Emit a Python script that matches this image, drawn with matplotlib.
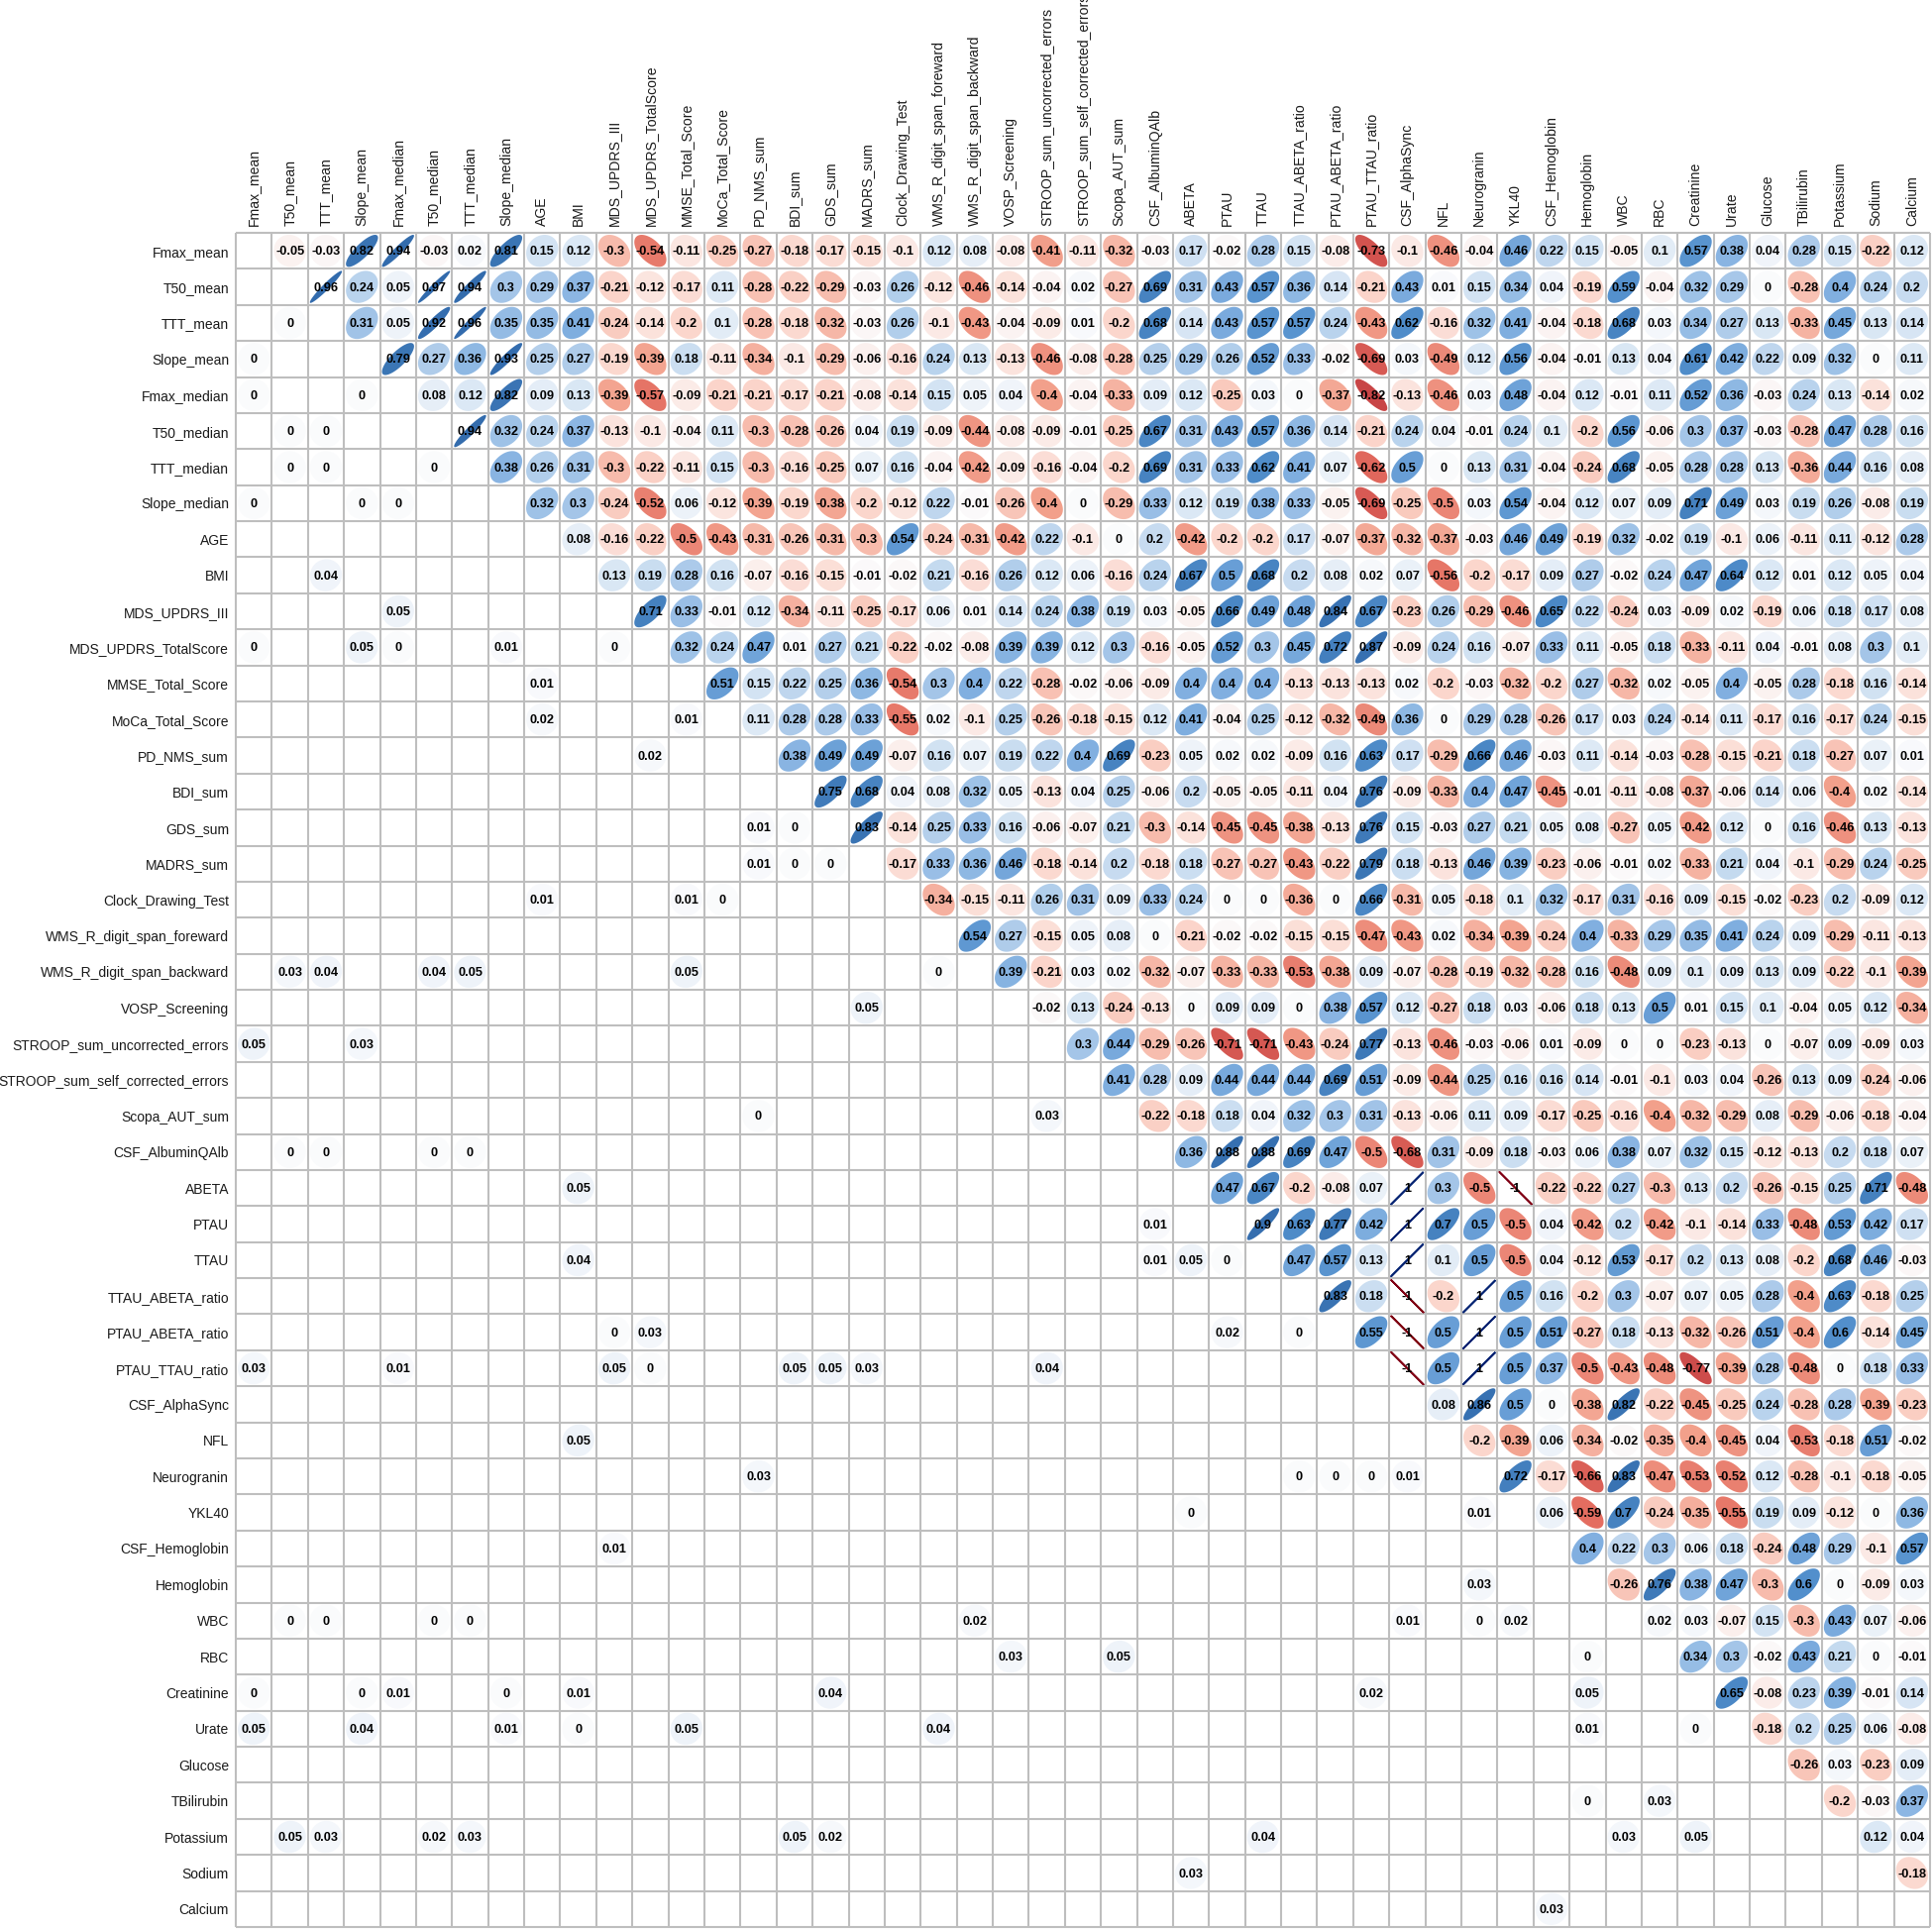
import numpy as np
import matplotlib
matplotlib.use("Agg")
import matplotlib.pyplot as plt
from matplotlib.colors import LinearSegmentedColormap

labels = ["Fmax_mean","T50_mean","TTT_mean","Slope_mean","Fmax_median","T50_median","TTT_median","Slope_median",
          "AGE","BMI","MDS_UPDRS_III","MDS_UPDRS_TotalScore","MMSE_Total_Score","MoCa_Total_Score","PD_NMS_sum",
          "BDI_sum","GDS_sum","MADRS_sum","Clock_Drawing_Test","WMS_R_digit_span_foreward","WMS_R_digit_span_backward",
          "VOSP_Screening","STROOP_sum_uncorrected_errors","STROOP_sum_self_corrected_errors","Scopa_AUT_sum",
          "CSF_AlbuminQAlb","ABETA","PTAU","TTAU","TTAU_ABETA_ratio","PTAU_ABETA_ratio","PTAU_TTAU_ratio","CSF_AlphaSync",
          "NFL","Neurogranin","YKL40","CSF_Hemoglobin","Hemoglobin","WBC","RBC","Creatinine","Urate","Glucose","TBilirubin",
          "Potassium","Sodium","Calcium"]

# Upper triangle: correlations, each list starts at the column right of the diagonal
r_Fmax_mean = [-0.05,-0.03,0.82,0.94,-0.03,0.02,0.81,0.15,0.12,-0.3,-0.54,-0.11,-0.25,-0.27,-0.18,-0.17,-0.15,-0.1,0.12,0.08,-0.08,-0.41,-0.11,-0.32,-0.03,0.17,-0.02,0.28,0.15,-0.08,-0.73,-0.1,-0.46,-0.04,0.46,0.22,0.15,-0.05,0.1,0.57,0.38,0.04,0.28,0.15,-0.22,0.12]
r_T50_mean = [0.96,0.24,0.05,0.97,0.94,0.3,0.29,0.37,-0.21,-0.12,-0.17,0.11,-0.28,-0.22,-0.29,-0.03,0.26,-0.12,-0.46,-0.14,-0.04,0.02,-0.27,0.69,0.31,0.43,0.57,0.36,0.14,-0.21,0.43,0.01,0.15,0.34,0.04,-0.19,0.59,-0.04,0.32,0.29,0,-0.28,0.4,0.24,0.2]
r_TTT_mean = [0.31,0.05,0.92,0.96,0.35,0.35,0.41,-0.24,-0.14,-0.2,0.1,-0.28,-0.18,-0.32,-0.03,0.26,-0.1,-0.43,-0.04,-0.09,0.01,-0.2,0.68,0.14,0.43,0.57,0.57,0.24,-0.43,0.62,-0.16,0.32,0.41,-0.04,-0.18,0.68,0.03,0.34,0.27,0.13,-0.33,0.45,0.13,0.14]
r_Slope_mean = [0.79,0.27,0.36,0.93,0.25,0.27,-0.19,-0.39,0.18,-0.11,-0.34,-0.1,-0.29,-0.06,-0.16,0.24,0.13,-0.13,-0.46,-0.08,-0.28,0.25,0.29,0.26,0.52,0.33,-0.02,-0.69,0.03,-0.49,0.12,0.56,-0.04,-0.01,0.13,0.04,0.61,0.42,0.22,0.09,0.32,0,0.11]
r_Fmax_median = [0.08,0.12,0.82,0.09,0.13,-0.39,-0.57,-0.09,-0.21,-0.21,-0.17,-0.21,-0.08,-0.14,0.15,0.05,0.04,-0.4,-0.04,-0.33,0.09,0.12,-0.25,0.03,0,-0.37,-0.82,-0.13,-0.46,0.03,0.48,-0.04,0.12,-0.01,0.11,0.52,0.36,-0.03,0.24,0.13,-0.14,0.02]
r_T50_median = [0.94,0.32,0.24,0.37,-0.13,-0.1,-0.04,0.11,-0.3,-0.28,-0.26,0.04,0.19,-0.09,-0.44,-0.08,-0.09,-0.01,-0.25,0.67,0.31,0.43,0.57,0.36,0.14,-0.21,0.24,0.04,-0.01,0.24,0.1,-0.2,0.56,-0.06,0.3,0.37,-0.03,-0.28,0.47,0.28,0.16]
r_TTT_median = [0.38,0.26,0.31,-0.3,-0.22,-0.11,0.15,-0.3,-0.16,-0.25,0.07,0.16,-0.04,-0.42,-0.09,-0.16,-0.04,-0.2,0.69,0.31,0.33,0.62,0.41,0.07,-0.62,0.5,0,0.13,0.31,-0.04,-0.24,0.68,-0.05,0.28,0.28,0.13,-0.36,0.44,0.16,0.08]
r_Slope_median = [0.32,0.3,-0.24,-0.52,0.06,-0.12,-0.39,-0.19,-0.38,-0.2,-0.12,0.22,-0.01,-0.26,-0.4,0,-0.29,0.33,0.12,0.19,0.38,0.33,-0.05,-0.69,-0.25,-0.5,0.03,0.54,-0.04,0.12,0.07,0.09,0.71,0.49,0.03,0.19,0.26,-0.08,0.19]
r_AGE = [0.08,-0.16,-0.22,-0.5,-0.43,-0.31,-0.26,-0.31,-0.3,0.54,-0.24,-0.31,-0.42,0.22,-0.1,0,0.2,-0.42,-0.2,-0.2,0.17,-0.07,-0.37,-0.32,-0.37,-0.03,0.46,0.49,-0.19,0.32,-0.02,0.19,-0.1,0.06,-0.11,0.11,-0.12,0.28]
r_BMI = [0.13,0.19,0.28,0.16,-0.07,-0.16,-0.15,-0.01,-0.02,0.21,-0.16,0.26,0.12,0.06,-0.16,0.24,0.67,0.5,0.68,0.2,0.08,0.02,0.07,-0.56,-0.2,-0.17,0.09,0.27,-0.02,0.24,0.47,0.64,0.12,0.01,0.12,0.05,0.04]
r_UPDRS_III = [0.71,0.33,-0.01,0.12,-0.34,-0.11,-0.25,-0.17,0.06,0.01,0.14,0.24,0.38,0.19,0.03,-0.05,0.66,0.49,0.48,0.84,0.67,-0.23,0.26,-0.29,-0.46,0.65,0.22,-0.24,0.03,-0.09,0.02,-0.19,0.06,0.18,0.17,0.08]
r_UPDRS_Total = [0.32,0.24,0.47,0.01,0.27,0.21,-0.22,-0.02,-0.08,0.39,0.39,0.12,0.3,-0.16,-0.05,0.52,0.3,0.45,0.72,0.87,-0.09,0.24,0.16,-0.07,0.33,0.11,-0.05,0.18,-0.33,-0.11,0.04,-0.01,0.08,0.3,0.1]
r_MMSE = [0.51,0.15,0.22,0.25,0.36,-0.54,0.3,0.4,0.22,-0.28,-0.02,-0.06,-0.09,0.4,0.4,0.4,-0.13,-0.13,-0.13,0.02,-0.2,-0.03,-0.32,-0.2,0.27,-0.32,0.02,-0.05,0.4,-0.05,0.28,-0.18,0.16,-0.14]
r_MoCa = [0.11,0.28,0.28,0.33,-0.55,0.02,-0.1,0.25,-0.26,-0.18,-0.15,0.12,0.41,-0.04,0.25,-0.12,-0.32,-0.49,0.36,0,0.29,0.28,-0.26,0.17,0.03,0.24,-0.14,0.11,-0.17,0.16,-0.17,0.24,-0.15]
r_PD_NMS = [0.38,0.49,0.49,-0.07,0.16,0.07,0.19,0.22,0.4,0.69,-0.23,0.05,0.02,0.02,-0.09,0.16,0.63,0.17,-0.29,0.66,0.46,-0.03,0.11,-0.14,-0.03,-0.28,-0.15,-0.21,0.18,-0.27,0.07,0.01]
r_BDI = [0.75,0.68,0.04,0.08,0.32,0.05,-0.13,0.04,0.25,-0.06,0.2,-0.05,-0.05,-0.11,0.04,0.76,-0.09,-0.33,0.4,0.47,-0.45,-0.01,-0.11,-0.08,-0.37,-0.06,0.14,0.06,-0.4,0.02,-0.14]
r_GDS = [0.83,-0.14,0.25,0.33,0.16,-0.06,-0.07,0.21,-0.3,-0.14,-0.45,-0.45,-0.38,-0.13,0.76,0.15,-0.03,0.27,0.21,0.05,0.08,-0.27,0.05,-0.42,0.12,0,0.16,-0.46,0.13,-0.13]
r_MADRS = [-0.17,0.33,0.36,0.46,-0.18,-0.14,0.2,-0.18,0.18,-0.27,-0.27,-0.43,-0.22,0.79,0.18,-0.13,0.46,0.39,-0.23,-0.06,-0.01,0.02,-0.33,0.21,0.04,-0.1,-0.29,0.24,-0.25]
r_Clock = [-0.34,-0.15,-0.11,0.26,0.31,0.09,0.33,0.24,0,0,-0.36,0,0.66,-0.31,0.05,-0.18,0.1,0.32,-0.17,0.31,-0.16,0.09,-0.15,-0.02,-0.23,0.2,-0.09,0.12]
r_WMS_fore = [0.54,0.27,-0.15,0.05,0.08,0,-0.21,-0.02,-0.02,-0.15,-0.15,-0.47,-0.43,0.02,-0.34,-0.39,-0.24,0.4,-0.33,0.29,0.35,0.41,0.24,0.09,-0.29,-0.11,-0.13]
r_WMS_back = [0.39,-0.21,0.03,0.02,-0.32,-0.07,-0.33,-0.33,-0.53,-0.38,0.09,-0.07,-0.28,-0.19,-0.32,-0.28,0.16,-0.48,0.09,0.1,0.09,0.13,0.09,-0.22,-0.1,-0.39]
r_VOSP = [-0.02,0.13,-0.24,-0.13,0,0.09,0.09,0,0.38,0.57,0.12,-0.27,0.18,0.03,-0.06,0.18,0.13,0.5,0.01,0.15,0.1,-0.04,0.05,0.12,-0.34]
r_STROOP_unc = [0.3,0.44,-0.29,-0.26,-0.71,-0.71,-0.43,-0.24,0.77,-0.13,-0.46,-0.03,-0.06,0.01,-0.09,0,0,-0.23,-0.13,0,-0.07,0.09,-0.09,0.03]
r_STROOP_self = [0.41,0.28,0.09,0.44,0.44,0.44,0.69,0.51,-0.09,-0.44,0.25,0.16,0.16,0.14,-0.01,-0.1,0.03,0.04,-0.26,0.13,0.09,-0.24,-0.06]
r_Scopa = [-0.22,-0.18,0.18,0.04,0.32,0.3,0.31,-0.13,-0.06,0.11,0.09,-0.17,-0.25,-0.16,-0.4,-0.32,-0.29,0.08,-0.29,-0.06,-0.18,-0.04]
r_Albumin = [0.36,0.88,0.88,0.69,0.47,-0.5,-0.68,0.31,-0.09,0.18,-0.03,0.06,0.38,0.07,0.32,0.15,-0.12,-0.13,0.2,0.18,0.07]
r_ABETA = [0.47,0.67,-0.2,-0.08,0.07,1,0.3,-0.5,-1,-0.22,-0.22,0.27,-0.3,0.13,0.2,-0.26,-0.15,0.25,0.71,-0.48]
r_PTAU = [0.9,0.63,0.77,0.42,1,0.7,0.5,-0.5,0.04,-0.42,0.2,-0.42,-0.1,-0.14,0.33,-0.48,0.53,0.42,0.17]
r_TTAU = [0.47,0.57,0.13,1,0.1,0.5,-0.5,0.04,-0.12,0.53,-0.17,0.2,0.13,0.08,-0.2,0.68,0.46,-0.03]
r_TTAU_ABETA = [0.83,0.18,-1,-0.2,1,0.5,0.16,-0.2,0.3,-0.07,0.07,0.05,0.28,-0.4,0.63,-0.18,0.25]
r_PTAU_ABETA = [0.55,-1,0.5,1,0.5,0.51,-0.27,0.18,-0.13,-0.32,-0.26,0.51,-0.4,0.6,-0.14,0.45]
r_PTAU_TTAU = [-1,0.5,1,0.5,0.37,-0.5,-0.43,-0.48,-0.77,-0.39,0.28,-0.48,0,0.18,0.33]
r_AlphaSync = [0.08,0.86,0.5,0,-0.38,0.82,-0.22,-0.45,-0.25,0.24,-0.28,0.28,-0.39,-0.23]
r_NFL = [-0.2,-0.39,0.06,-0.34,-0.02,-0.35,-0.4,-0.45,0.04,-0.53,-0.18,0.51,-0.02]
r_Neurogranin = [0.72,-0.17,-0.66,0.83,-0.47,-0.53,-0.52,0.12,-0.28,-0.1,-0.18,-0.05]
r_YKL40 = [0.06,-0.59,0.7,-0.24,-0.35,-0.55,0.19,0.09,-0.12,0,0.36]
r_CSF_Hb = [0.4,0.22,0.3,0.06,0.18,-0.24,0.48,0.29,-0.1,0.57]
r_Hb = [-0.26,0.76,0.38,0.47,-0.3,0.6,0,-0.09,0.03]
r_WBC = [0.02,0.03,-0.07,0.15,-0.3,0.43,0.07,-0.06]
r_RBC = [0.34,0.3,-0.02,0.43,0.21,0,-0.01]
r_Creatinine = [0.65,-0.08,0.23,0.39,-0.01,0.14]
r_Urate = [-0.18,0.2,0.25,0.06,-0.08]
r_Glucose = [-0.26,0.03,-0.23,0.09]
r_TBilirubin = [-0.2,-0.03,0.37]
r_Potassium = [0.12,0.04]
r_Sodium = [-0.18]

upper_rows = [r_Fmax_mean,r_T50_mean,r_TTT_mean,r_Slope_mean,r_Fmax_median,r_T50_median,r_TTT_median,r_Slope_median,
              r_AGE,r_BMI,r_UPDRS_III,r_UPDRS_Total,r_MMSE,r_MoCa,r_PD_NMS,r_BDI,r_GDS,r_MADRS,r_Clock,r_WMS_fore,
              r_WMS_back,r_VOSP,r_STROOP_unc,r_STROOP_self,r_Scopa,r_Albumin,r_ABETA,r_PTAU,r_TTAU,r_TTAU_ABETA,
              r_PTAU_ABETA,r_PTAU_TTAU,r_AlphaSync,r_NFL,r_Neurogranin,r_YKL40,r_CSF_Hb,r_Hb,r_WBC,r_RBC,r_Creatinine,
              r_Urate,r_Glucose,r_TBilirubin,r_Potassium,r_Sodium]

# Lower triangle: the significant p-values only
sig_row = [2,3,4,4,5,5,6,6,6,7,7,7,9,10,11,11,11,11,11,12,13,13,14,16,16,17,17,17,18,18,18,
           20,20,20,20,20,20,21,22,22,24,24,25,25,25,25,26,27,28,28,28,28,30,30,30,30,
           31,31,31,31,31,31,31,31,33,34,34,34,34,34,35,35,36,37,38,38,38,38,38,38,38,38,
           39,39,39,40,40,40,40,40,40,40,40,41,41,41,41,41,41,41,41,43,43,
           44,44,44,44,44,44,44,44,44,45,46]
sig_col = [1,0,0,3,1,2,1,2,5,0,3,4,2,4,0,3,4,7,10,8,8,12,11,14,15,14,15,16,8,12,13,
           1,2,5,6,12,19,17,0,3,14,22,1,2,5,6,9,25,9,25,26,27,10,11,27,29,
           0,4,10,11,15,16,17,22,9,14,29,30,31,32,26,34,10,34,1,2,5,6,20,32,34,35,
           21,24,37,0,3,4,7,9,16,31,37,0,3,7,9,12,19,37,40,37,39,
           1,2,5,6,15,16,28,38,40,26,36]
sig_val = [0,0,0,0,0,0,0,0,0,0,0,0,0.04,0.05,0,0.05,0,0.01,0,0.01,0.02,0.01,0.02,0.01,0,0.01,0,0,0.01,0.01,0,
           0.03,0.04,0.04,0.05,0.05,0,0.05,0.05,0.03,0,0.03,0,0,0,0,0.05,0.01,0.04,0.01,0.05,0,0,0.03,0.02,0,
           0.03,0.01,0.05,0,0.05,0.05,0.03,0.04,0.05,0.03,0,0,0,0.01,0,0.01,0.01,0.03,0,0,0,0,0.02,0.01,0,0.02,
           0.03,0.05,0,0,0,0.01,0,0.01,0.04,0.02,0.05,0.05,0.04,0.01,0,0.05,0.04,0.01,0,0,0.03,
           0.05,0.03,0.02,0.03,0.05,0.02,0.04,0.03,0.05,0.03,0.03]

plt.rcParams['font.family'] = ['Liberation Sans', 'DejaVu Sans']
cmap = LinearSegmentedColormap.from_list("corr", [
    (0.0, (0.50, 0.00, 0.08)), (0.004, (0.72, 0.20, 0.22)), (0.1, (0.79, 0.28, 0.28)), (0.2, (0.89, 0.42, 0.37)),
    (0.3, (0.95, 0.63, 0.55)), (0.4, (0.985, 0.84, 0.80)), (0.5, (0.985, 0.985, 0.99)),
    (0.6, (0.78, 0.86, 0.94)), (0.7, (0.51, 0.69, 0.88)), (0.8, (0.32, 0.56, 0.80)),
    (0.9, (0.23, 0.46, 0.71)), (0.996, (0.19, 0.41, 0.67)), (1.0, (0.02, 0.14, 0.45))])

n = len(labels)
fig = plt.figure(figsize=(19.5, 19.47), dpi=100)
W, H = 1950.0, 1947.0
ax = fig.add_axes([238/W, 2/H, 1710/W, 1710/H])
ax.set_xlim(0, n)
ax.set_ylim(n, 0)

grid = '#BEBEBE'
ax.vlines(np.arange(n + 1), 0, n, color=grid, lw=1.5, zorder=1, clip_on=False)
ax.hlines(np.arange(n + 1), 0, n, color=grid, lw=1.5, zorder=1, clip_on=False)
for s in ax.spines.values():
    s.set_visible(False)

k = np.linspace(0, 2 * np.pi, 99)
AMP = 0.445

def cell(row, col, r):
    d = np.arccos(np.clip(r, -1, 1))
    x = col + 0.5 + AMP * np.cos(k + d / 2)
    y = row + 0.5 - AMP * np.cos(k - d / 2)
    c = cmap((r + 1) / 2)
    if abs(r) >= 1:
        ax.plot(x, y, color=c, lw=1.3, zorder=2, solid_capstyle='butt')
    else:
        ax.fill(x, y, facecolor=c, edgecolor='none', zorder=2)
    ax.text(col + 0.5, row + 0.53, f"{r:g}", ha='center', va='center',
            fontsize=9.2, fontweight='bold', color='black', zorder=3)

for i, vals in enumerate(upper_rows):
    for off, r in enumerate(vals):
        cell(i, i + 1 + off, r)
for i, j, p in zip(sig_row, sig_col, sig_val):
    cell(i, j, p)

ax.xaxis.tick_top()
ax.set_xticks(np.arange(n) + 0.5)
ax.set_xticklabels(labels, rotation=90, ha='center', va='bottom', fontsize=10.1, color='#1a1a1a')
ax.set_yticks(np.arange(n) + 0.5)
ax.set_yticklabels(labels, fontsize=10.0, color='#1a1a1a')
ax.tick_params(length=0, pad=5)
ax.tick_params(axis='y', pad=5)

fig.savefig("out.png", dpi=100, facecolor='white')
assert all(len(v) == n - 1 - i for i, v in enumerate(upper_rows))
assert len(sig_row) == len(sig_col) == len(sig_val)
